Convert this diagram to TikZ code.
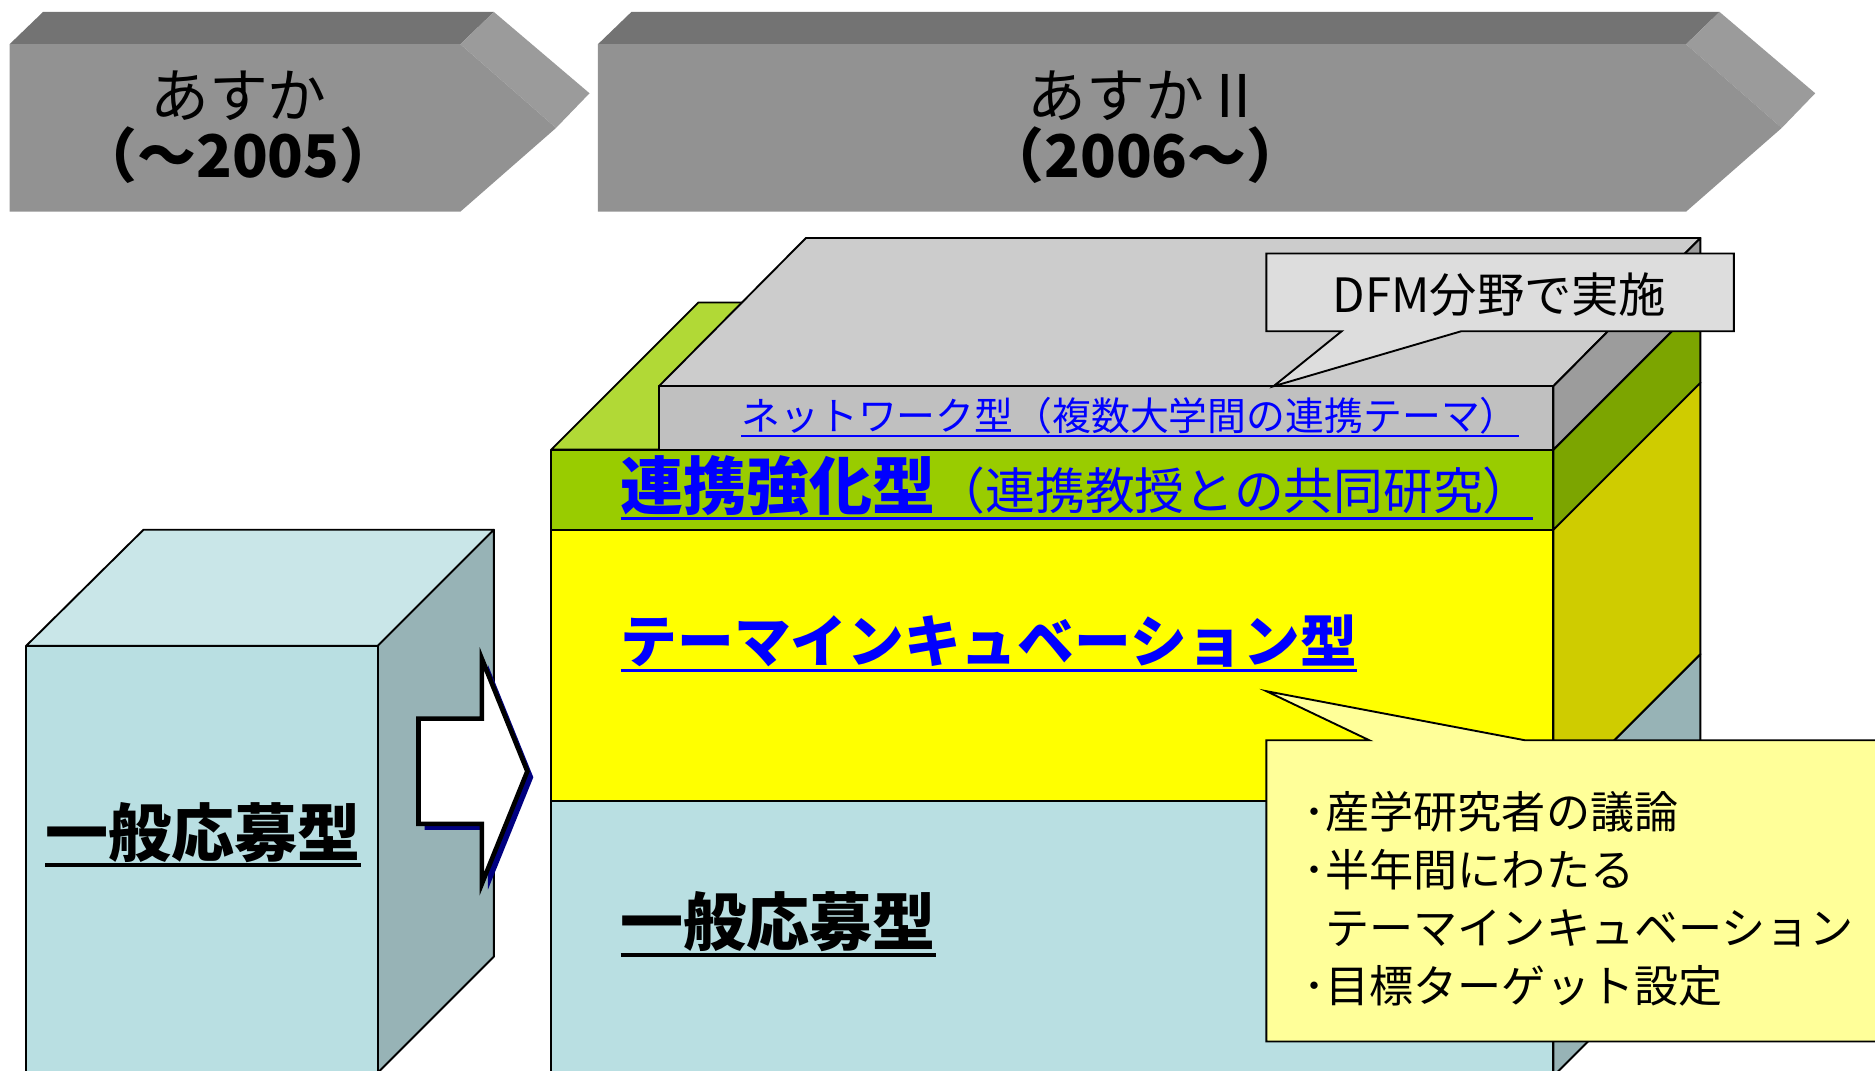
\documentclass[tikz,border=0pt]{standalone}
\usepackage{fontspec}
\setmainfont{Noto Sans CJK JP}
\usepackage{xcolor}

\definecolor{chevfront}{HTML}{929292}
\definecolor{chevtop}{HTML}{737373}
\definecolor{chevside}{HTML}{9B9B9B}
\definecolor{openfront}{HTML}{B9DFE2}
\definecolor{opentop}{HTML}{C9E6E8}
\definecolor{openside}{HTML}{97B3B6}
\definecolor{themefront}{HTML}{FFFF00}
\definecolor{themeside}{HTML}{CFCC00}
\definecolor{linkfront}{HTML}{99CC00}
\definecolor{linkside}{HTML}{7CA500}
\definecolor{linktop}{HTML}{B1D936}
\definecolor{netfront}{HTML}{C0C0C0}
\definecolor{nettop}{HTML}{CCCCCC}
\definecolor{netside}{HTML}{9C9C9C}
\definecolor{dfmgray}{HTML}{DDDDDD}
\definecolor{notebg}{HTML}{FFFF99}
\definecolor{arrowshadow}{HTML}{000080}

\newsavebox{\ulsave}
\newcommand{\ulbox}[1]{\sbox{\ulsave}{#1}\rlap{\usebox{\ulsave}}\rule[-0.17em]{\wd\ulsave}{0.055em}}

\begin{document}
\begin{tikzpicture}[
    x=0.02cm, y=-0.02cm,
    every node/.style={inner sep=0pt, outer sep=0pt},
    face/.style={draw=black, line width=0.9pt, line join=round},
    eratext/.style={align=center, font=\fontsize{28}{28.5}\selectfont},
    typelabel/.style={anchor=base west, font=\fontsize{30}{30}\selectfont\bfseries},
    notebox/.style={draw=black, line width=0.9pt, line join=miter}
]
\useasboundingbox (0,0) rectangle (1568,895.6);

% Era chevrons
\foreach \xl/\xr/\txt [count=\i] in {8/385/{あすか\\\textbf{（～2005）}}, 500/1410/{あすかⅡ\\\textbf{（2006～）}}}{
  \fill[chevtop] (\xl,37) -- (\xl+28,10) -- (\xr+28,10) -- (\xr,37) -- cycle;
  \fill[chevside] (\xr,37) -- (\xr+28,10) -- (\xr+108,78) -- (\xr+80,107) -- cycle;
  \fill[chevfront] (\xl,37) -- (\xr,37) -- (\xr+80,107) -- (\xr,177) -- (\xl,177) -- cycle;
  \node[eratext] (era\i) at ({(\xl+\xr)/2+3},106) {\txt};
}

% Old block
\filldraw[face, fill=opentop] (22,540) -- (120,443) -- (413,443) -- (316,540) -- cycle;
\filldraw[face, fill=openside] (316,540) -- (413,443) -- (413,800) -- (316,897) -- cycle;
\filldraw[face, fill=openfront] (22,540) rectangle (316,900);
\node[typelabel] (oldopen) at (38,716) {\ulbox{一般応募型}};

% Block arrow
\fill[arrowshadow, shift={(5,5)}] (350,601) -- (403,601) -- (403,551) -- (441,645) -- (403,739) -- (403,689) -- (350,689) -- cycle;
\filldraw[fill=white, draw=black, line width=2.2pt] (350,601) -- (403,601) -- (403,551) -- (441,645) -- (403,739) -- (403,689) -- (350,689) -- cycle;

% New block, layer by layer
\foreach \yt/\yb/\cf/\cs in {670/900/openfront/openside, 443/670/themefront/themeside, 376/443/linkfront/linkside}{
  \filldraw[face, fill=\cf] (461,\yt) rectangle (1299,\yb);
  \filldraw[face, fill=\cs] (1299,\yt) -- (1422,\yt-123) -- (1422,\yb-123) -- (1299,\yb) -- cycle;
}
\filldraw[face, fill=linktop] (461,376) -- (584,253) -- (1422,253) -- (1299,376) -- cycle;
\filldraw[face, fill=nettop] (551,323) -- (674,199) -- (1422,199) -- (1299,323) -- cycle;
\filldraw[face, fill=netside] (1299,323) -- (1422,199) -- (1422,253) -- (1299,376) -- cycle;
\filldraw[face, fill=netfront] (551,323) rectangle (1299,376);

\node[typelabel, font=\fontsize{18.5}{18.5}\selectfont, text=blue] (net) at (620,360) {\ulbox{ネットワーク型（複数大学間の連携テーマ）}};
\node[typelabel, text=blue] (link) at (519,426) {\ulbox{連携強化型{\fontsize{23.7}{23.7}\selectfont\mdseries（連携教授との共同研究）}}};
\node[typelabel, font=\fontsize{27}{27}\selectfont\bfseries, text=blue] (theme) at (519,554) {\ulbox{テーマインキュベーション型}};
\node[typelabel] (open) at (519,791) {\ulbox{一般応募型}};

% Callouts
\filldraw[notebox, fill=dfmgray] (1059,212) -- (1450,212) -- (1450,277) -- (1222,277) -- (1065,323) -- (1122,277) -- (1059,277) -- cycle;
\node[font=\fontsize{22.5}{22.5}\selectfont] (dfm) at (1254,246) {DFM分野で実施};

\filldraw[notebox, fill=notebg] (1059,619) -- (1145,619) -- (1059,578) -- (1275,619) -- (1580,619) -- (1580,871) -- (1059,871) -- cycle;
\node[anchor=north west, align=left, font=\fontsize{21}{27.6}\selectfont] (incub) at (1090,662)
  {･産学研究者の議論\\･半年間にわたる\\\hspace{0.5em}テーマインキュベーション\\･目標ターゲット設定};
\end{tikzpicture}
\end{document}
